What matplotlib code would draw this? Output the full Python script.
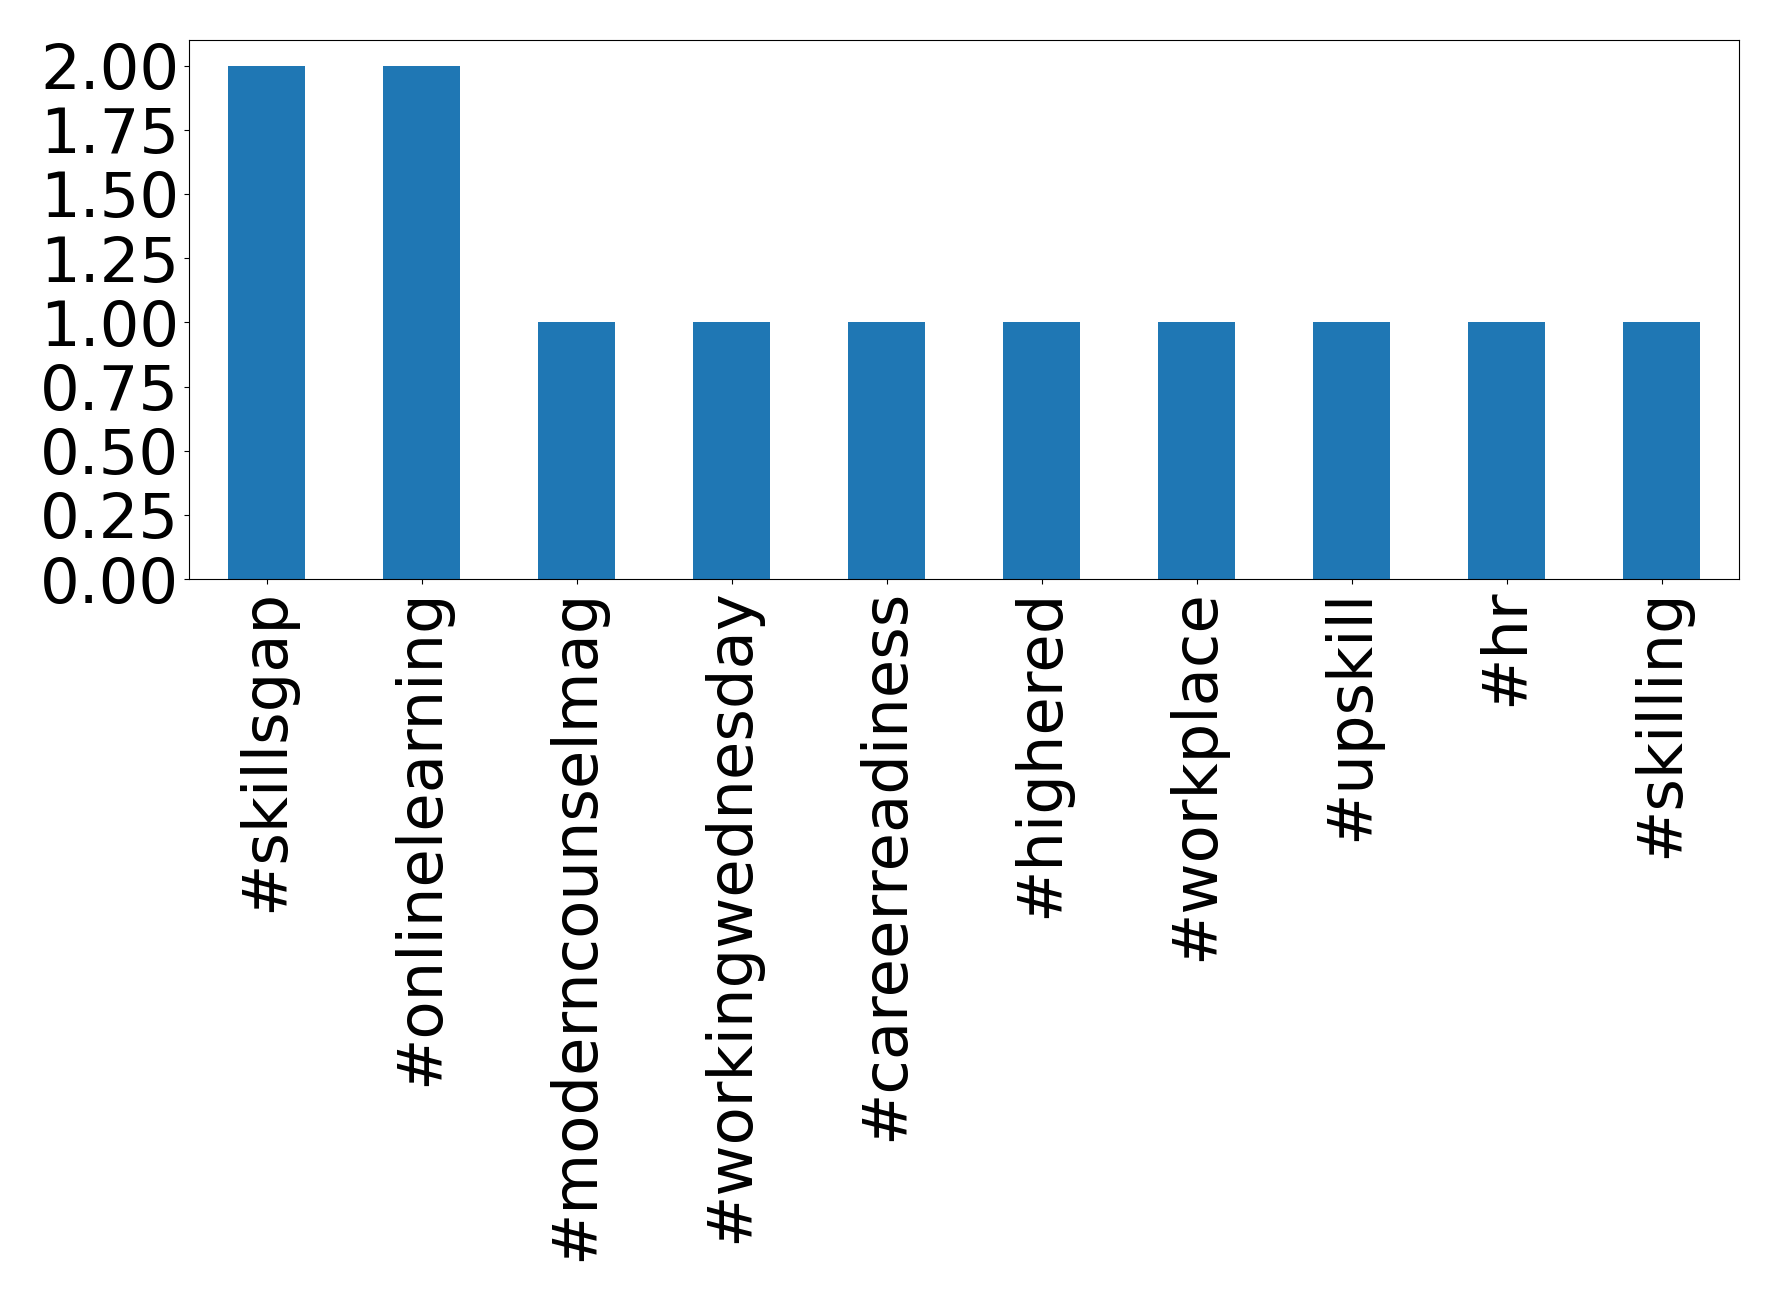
import matplotlib
matplotlib.use("Agg")
import matplotlib.pyplot as plt

categories = ["#skillsgap", "#onlinelearning", "#moderncounselmag", "#workingwednesday",
              "#careerreadiness", "#highered", "#workplace", "#upskill", "#hr", "#skilling"]
counts = [2, 2, 1, 1, 1, 1, 1, 1, 1, 1]

fig = plt.figure(figsize=(17.78, 13.01), dpi=100)
ax = fig.add_axes([189/1778, 1 - 579/1301, (1739-189)/1778, (579-40)/1301])
x = list(range(len(categories)))
ax.bar(x, counts, width=0.5, color="#1f77b4")
ax.set_xlim(-0.5, len(categories) - 0.5)
ax.set_ylim(0, 2.1)
ax.set_yticks([0, 0.25, 0.5, 0.75, 1.0, 1.25, 1.5, 1.75, 2.0])
ax.set_yticklabels([f"{v:.2f}" for v in [0, 0.25, 0.5, 0.75, 1.0, 1.25, 1.5, 1.75, 2.0]])
ax.set_xticks(x)
ax.set_xticklabels(categories, rotation=90)
ax.tick_params(labelsize=45)
fig.savefig("out.png", dpi=100)
